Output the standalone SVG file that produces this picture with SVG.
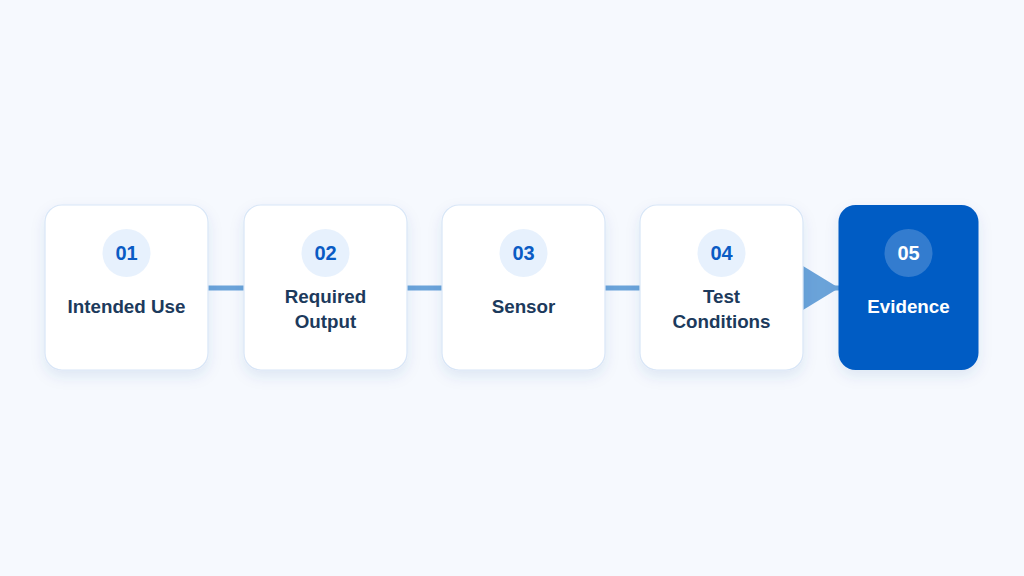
<svg xmlns="http://www.w3.org/2000/svg" width="1024" height="576" viewBox="0 0 1024 576">
  <defs>
    <filter id="sh" x="-30%" y="-30%" width="160%" height="170%">
      <feDropShadow dx="0" dy="6" stdDeviation="7" flood-color="#1e4f9a" flood-opacity="0.10"/>
    </filter>
    <marker id="arr" markerUnits="userSpaceOnUse" markerWidth="36" markerHeight="44" refX="36" refY="22" orient="auto">
      <path d="M0,0 L36,22 L0,44 Z" fill="#6aa3d9"/>
    </marker>
    <style>
      .card { fill: #ffffff; stroke: #d8e6f7; stroke-width: 1.2; }
      .cardA { fill: #005bc4; }
      .badge { fill: #e7f1fd; }
      .badgeA { fill: #ffffff; fill-opacity: 0.2; }
      .num { font-family: "Liberation Sans", Arial, sans-serif; font-weight: bold; font-size: 20px; fill: #0a5bc4; text-anchor: middle; }
      .numA { fill: #ffffff; }
      .lbl { font-family: "Liberation Sans", Arial, sans-serif; font-weight: bold; font-size: 18.8px; fill: #1c3a5c; text-anchor: middle; }
      .lblA { fill: #ffffff; }
      .conn { stroke: #6aa3d9; stroke-width: 5; fill: none; }
    </style>
  </defs>
  <rect width="1024" height="576" fill="#f6f9fe"/>

  <g id="connectors">
    <line class="conn" x1="208" y1="288" x2="244" y2="288"/>
    <line class="conn" x1="407" y1="288" x2="442" y2="288"/>
    <line class="conn" x1="605" y1="288" x2="640" y2="288"/>
    <line class="conn" x1="803" y1="288" x2="839" y2="288" stroke-width="0.01" marker-end="url(#arr)"/>
  </g>

  <g id="node1">
    <rect class="card" x="45" y="205" width="163" height="165" rx="17" filter="url(#sh)"/>
    <circle class="badge" cx="126.5" cy="253" r="24"/>
    <text class="num" x="126.5" y="260">01</text>
    <text class="lbl" x="126.5" y="313">Intended Use</text>
  </g>

  <g id="node2">
    <rect class="card" x="244" y="205" width="163" height="165" rx="17" filter="url(#sh)"/>
    <circle class="badge" cx="325.5" cy="253" r="24"/>
    <text class="num" x="325.5" y="260">02</text>
    <text class="lbl" x="325.5" y="303">Required</text>
    <text class="lbl" x="325.5" y="328">Output</text>
  </g>

  <g id="node3">
    <rect class="card" x="442" y="205" width="163" height="165" rx="17" filter="url(#sh)"/>
    <circle class="badge" cx="523.5" cy="253" r="24"/>
    <text class="num" x="523.5" y="260">03</text>
    <text class="lbl" x="523.5" y="313">Sensor</text>
  </g>

  <g id="node4">
    <rect class="card" x="640" y="205" width="163" height="165" rx="17" filter="url(#sh)"/>
    <circle class="badge" cx="721.5" cy="253" r="24"/>
    <text class="num" x="721.5" y="260">04</text>
    <text class="lbl" x="721.5" y="303">Test</text>
    <text class="lbl" x="721.5" y="328">Conditions</text>
  </g>

  <g id="node5">
    <rect class="cardA" x="838.5" y="205" width="140" height="165" rx="17" filter="url(#sh)"/>
    <circle class="badgeA" cx="908.5" cy="253" r="24"/>
    <text class="num numA" x="908.5" y="260">05</text>
    <text class="lbl lblA" x="908.5" y="313">Evidence</text>
  </g>
</svg>
